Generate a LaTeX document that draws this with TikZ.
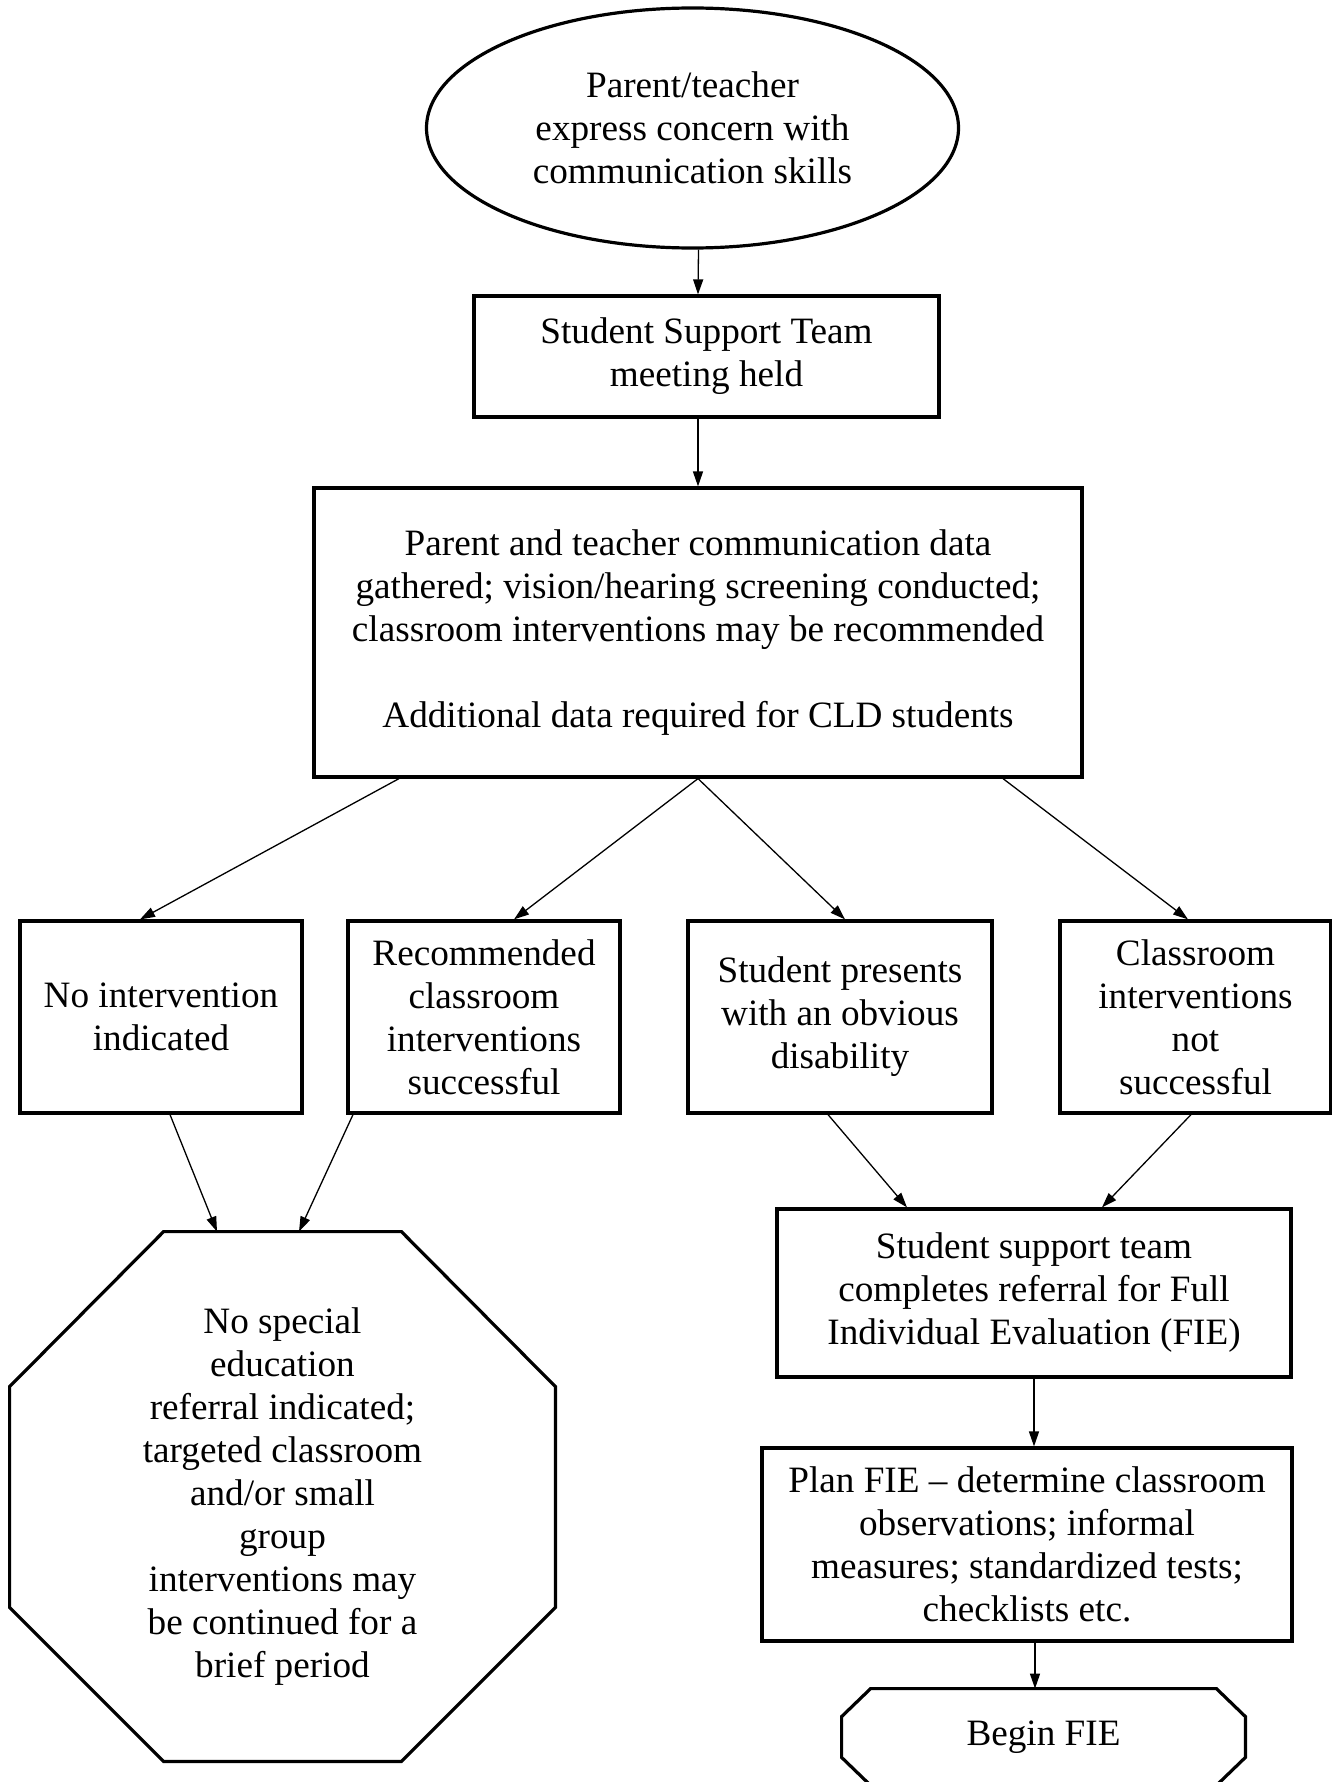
\documentclass[tikz,border=0pt]{standalone}
\usepackage{fontspec}
\setmainfont{Liberation Serif}
\usetikzlibrary{arrows.meta,calc,shapes.geometric}
\newcommand\myfs{\fontsize{18.6pt}{21.5pt}\selectfont}
\begin{document}
\begin{tikzpicture}[x=0.5pt,y=-0.5pt,
  box/.style={draw,line width=1.6pt,rectangle,inner sep=0pt,align=center,font=\myfs},
  ellbox/.style={draw,line width=1.6pt,ellipse,inner sep=0pt,align=center,font=\myfs},
  txtbox/.style={rectangle,inner sep=0pt,align=center,font=\myfs},
  border/.style={line width=1.6pt,line join=miter},
  arr/.style={line width=0.65pt,-{Triangle[length=7.5pt,width=5pt]}}
]
\useasboundingbox (0,0) rectangle (1332,1782);
\fill[white] (0,0) rectangle (1332,1782);

\node[ellbox,minimum width=266pt,minimum height=120pt] (ell) at (692.5,128)
  {Parent/teacher\\express concern with\\communication skills};
\node[box,minimum width=232.5pt,minimum height=60.5pt] (sst) at (706.5,356.5)
  {Student Support Team\\meeting held};
\node[box,minimum width=384pt,minimum height=144.5pt] (big) at (698,632.5)
  {Parent and teacher communication data\\gathered; vision/hearing screening conducted;\\classroom interventions may be recommended\\[21.5pt]Additional data required for CLD students};
\node[box,minimum width=141pt,minimum height=96pt] (na) at (161,1017)
  {No intervention\\indicated};
\node[box,minimum width=136pt,minimum height=96pt] (nb) at (484,1017)
  {Recommended\\classroom\\interventions\\successful};
\node[box,minimum width=152pt,minimum height=96pt] (nc) at (840,1017)
  {Student presents\\with an obvious\\disability};
\node[box,minimum width=135.5pt,minimum height=96pt] (nd) at (1195.5,1017)
  {Classroom\\interventions\\not\\successful};
\node[txtbox,minimum width=272.5pt,minimum height=264.5pt] (oct) at (282.5,1496.5)
  {No special\\education\\referral indicated;\\targeted classroom\\and/or small\\group\\interventions may\\be continued for a\\brief period};
\draw[border] ($(oct.north west)+(154,0)$) -- ($(oct.north east)+(-154,0)$)
  -- ($(oct.north east)+(0,155)$) -- ($(oct.south east)+(0,-154)$)
  -- ($(oct.south east)+(-154,0)$) -- ($(oct.south west)+(154,0)$)
  -- ($(oct.south west)+(0,-154)$) -- ($(oct.north west)+(0,155)$) -- cycle;
\node[box,minimum width=257pt,minimum height=84pt] (fie) at (1034,1293)
  {Student support team\\completes referral for Full\\Individual Evaluation (FIE)};
\node[box,minimum width=265pt,minimum height=96.5pt] (plan) at (1027,1544.5)
  {Plan FIE – determine classroom\\observations; informal\\measures; standardized tests;\\checklists etc.};
\node[txtbox,minimum width=201.5pt,minimum height=48pt] (beg) at (1043.5,1737)
  {Begin FIE};
\draw[border] ($(beg.north west)+(29,0)$) -- ($(beg.north east)+(-29,0)$)
  -- ($(beg.north east)+(0,28)$) -- ($(beg.south east)+(0,-28)$)
  -- ($(beg.south east)+(-29,0)$) -- ($(beg.south west)+(29,0)$)
  -- ($(beg.south west)+(0,-28)$) -- ($(beg.north west)+(0,28)$) -- cycle;

\draw[arr] ($(ell.south)+(6,0)$) -- ($(sst.north)+(-8.5,0)$);
\draw[arr] ($(sst.south)+(-8.5,0)$) -- (big.north);
\draw[arr] ($(big.south)+(-299,0)$) -- ($(na.north)+(-21,0)$);
\draw[arr] (big.south) -- ($(nb.north)+(30,0)$);
\draw[arr] (big.south) -- ($(nc.north)+(5,0)$);
\draw[arr] ($(big.south)+(305,0)$) -- ($(nd.north)+(-7.5,0)$);
\draw[arr] ($(na.south)+(9,0)$) -- ($(oct.north)+(-65.5,0)$);
\draw[arr] ($(nb.south)+(-131,0)$) -- ($(oct.north)+(16.5,0)$);
\draw[arr] ($(nc.south)+(-12,0)$) -- ($(fie.north)+(-127,0)$);
\draw[arr] ($(nd.south)+(-4.5,0)$) -- ($(fie.north)+(68,0)$);
\draw[arr] (fie.south) -- (fie.south |- plan.north);
\draw[arr] ($(plan.south)+(8,0)$) -- ($(beg.north)+(-8.5,0)$);
\end{tikzpicture}
\end{document}
